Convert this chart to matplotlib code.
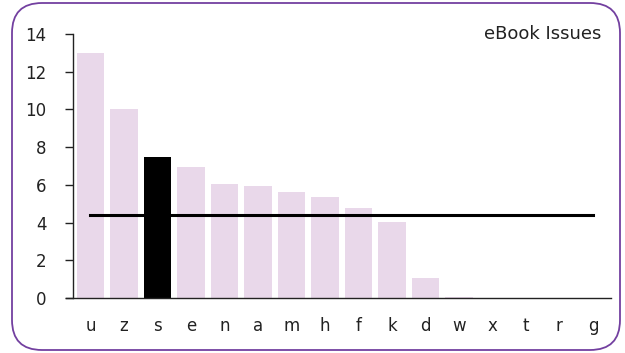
import numpy as np
import matplotlib
matplotlib.use('Agg')
import matplotlib.pyplot as plt
from matplotlib.patches import FancyBboxPatch

categories = ['u', 'z', 's', 'e', 'n', 'a', 'm', 'h', 'f', 'k', 'd', 'w', 'x', 't', 'r', 'g']
values = [13.0, 10.0, 7.5, 6.95, 6.05, 5.95, 5.6, 5.35, 4.75, 4.05, 1.05, 0.05, 0, 0, 0, 0]
highlight = 's'
title = 'eBook Issues'

W, H = 625, 353
fig = plt.figure(figsize=(W / 100, H / 100), dpi=100)

# background axes in pixel units, for the rounded frame
bg = fig.add_axes([0, 0, 1, 1], zorder=-1)
bg.set_xlim(0, W)
bg.set_ylim(H, 0)
bg.axis('off')
bg.add_patch(FancyBboxPatch((12, 3), 608, 347,
                            boxstyle='round,pad=0,rounding_size=30',
                            facecolor='white', edgecolor='#7340a0', linewidth=1.3))

ax = fig.add_axes([73 / W, 55 / H, (611 - 73) / W, (298 - 34) / H])
ax.patch.set_alpha(0)

x = np.arange(len(categories))
colors = ['black' if c == highlight else '#e9d8ea' for c in categories]
ax.bar(x, values, width=0.83, color=colors, zorder=2)

# average line across all categories
mean = np.mean(values)
ax.plot(x, [mean] * len(x), color='black', linewidth=2.2, zorder=3)

ax.set_xlim(-0.52, len(categories) - 0.46)
ax.set_ylim(0, 14)
ax.set_yticks(range(0, 15, 2))
ax.set_xticks(x)
ax.set_xticklabels(categories)

for s in ['top', 'right']:
    ax.spines[s].set_visible(False)
ax.spines['left'].set_linewidth(1)
ax.spines['bottom'].set_linewidth(1)
ax.spines['bottom'].set_bounds(-0.74, len(categories) - 0.46)
ax.spines['left'].set_color('#222222')
ax.spines['bottom'].set_color('#222222')

ax.tick_params(axis='y', length=6, width=1, labelsize=12, pad=13, colors='#222222')
ax.tick_params(axis='x', length=0, labelsize=12, pad=14, colors='#222222')

fig.text(601 / W, 1 - 34 / H, title, ha='right', va='center', fontsize=13, color='#222222')

fig.savefig('out.png', dpi=100)
